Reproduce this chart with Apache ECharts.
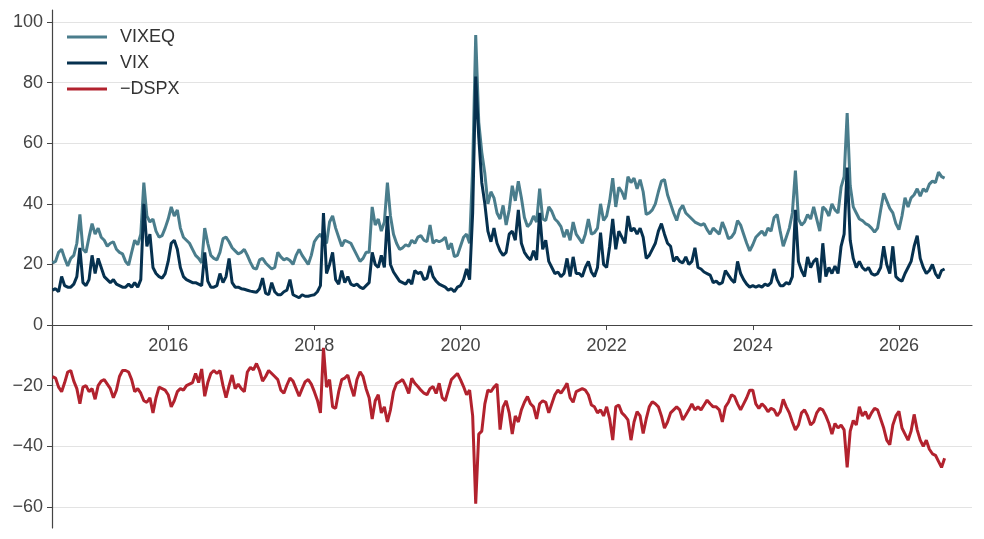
<!DOCTYPE html>
<html>
<head>
<meta charset="utf-8">
<script src="https://cdn.jsdelivr.net/npm/echarts@6/dist/echarts.min.js"></script>
<style>
  html, body { margin: 0; padding: 0; background: #fff; }
  #main { width: 984px; height: 539px; }
</style>
</head>
<body>
<div id="main"></div>
<script>
// half-monthly readings, first point = June 2014
var startYear = 2014 + 5 / 12;
var step = 1 / 24;

var vixeq = [
    20.5, 21, 24, 25, 22, 19.5, 22, 23, 27, 36.5, 25, 24, 29, 33.5, 30, 32, 29, 28, 26, 27, 27.5, 25, 24, 23.5,
    21, 19.8, 24, 28, 26.5, 30, 47, 36, 34, 35, 31, 29, 29.5, 32, 35, 39, 36, 38, 32, 29, 28, 27, 25, 23,
    22, 20.5, 32, 27, 23, 22, 21.5, 24, 28.5, 29, 27.5, 25.5, 24.5, 23.5, 24, 25, 23, 20.7, 18.8, 18.5, 21.5, 22, 20.5, 19.5,
    18.5, 19, 24, 22.5, 21.5, 22, 21.3, 20, 23, 25, 23, 21.5, 20, 23, 27.5, 29, 30, 28, 27, 34, 36, 32, 29, 26,
    28, 27.5, 27, 25, 23, 21, 22, 24, 24, 39, 33, 35, 31, 34, 47, 36, 30, 27, 25, 25.5, 26.5, 26, 28, 27,
    29, 29.5, 28, 27.5, 33, 27, 28, 27.5, 28, 29, 25, 27, 22.6, 23, 26, 29, 30, 27, 52, 95.7, 67, 57, 50, 40,
    44, 42, 37, 35, 39.5, 33, 38, 46, 41, 47.5, 42, 35.5, 32.5, 33.5, 36, 34, 45, 35, 34.5, 39, 37.5, 35, 34, 32.5,
    29, 31.5, 28, 34, 30, 28.5, 27, 30, 35, 30, 30.5, 32, 40, 34.5, 36, 41, 48.5, 39, 45.5, 44, 41.5, 49, 47, 48.5,
    45, 48, 44, 36.5, 37, 38, 40, 44, 47.5, 48, 43, 40, 37, 34.5, 38, 39.5, 37, 36, 35, 34, 33.5, 33, 33.5, 31.5,
    30, 32, 31, 30, 34, 31.5, 28.5, 29, 30.5, 34.5, 33, 30, 27, 24.5, 26.5, 29, 30, 31, 29.5, 32, 31, 35.5, 36.5, 31,
    26, 29, 32, 37, 51, 35, 33, 34, 36.5, 35, 39, 35, 31, 39, 38, 36, 40, 38, 37, 45.5, 49, 70, 46, 39,
    37, 35, 34.5, 33.5, 33, 32, 30.7, 32, 38, 43.5, 41, 38.5, 37, 33.5, 31.5, 36, 42, 39, 42, 43, 45, 42.5, 45, 44,
    46.5, 47.5, 47, 50.5, 49, 48.5
];

var vix = [
    11.5, 12, 11, 16, 13, 12.5, 12.5, 13.5, 16, 25.5, 14, 13, 15, 23, 17, 22, 19, 16, 15, 14, 15, 13.5, 13, 12.5,
    12.5, 13.5, 12.5, 14, 12.5, 15, 40, 26, 30, 19, 17, 16, 15.5, 17, 21, 27, 28, 25, 19, 16, 15, 14.5, 14, 14,
    13.5, 13, 24, 14.5, 12.5, 12.5, 13, 17, 14, 16, 22, 14, 12.5, 12.5, 12, 11.8, 11.5, 11.2, 11, 10.8, 12, 15.5, 10.5, 10,
    14, 11, 10, 10, 11, 11.5, 15, 10, 9.5, 9, 10, 9.5, 9.5, 9.8, 10, 11, 13, 37, 17, 20, 24, 15, 13.5, 18,
    14, 16, 13.5, 13, 13.5, 12.5, 12, 13, 14, 24, 20, 19, 23, 19, 36, 20, 17.5, 16, 14.5, 14, 13.5, 15, 13.5, 18,
    17, 17.5, 15, 15.5, 19.5, 16, 14.5, 13.5, 13, 12.5, 11.5, 12, 11, 12.5, 13, 15, 18.5, 15, 37, 82, 62, 47, 40, 31,
    27.5, 32, 27, 24.5, 23, 24, 30, 31, 28, 38, 27, 24, 22.5, 21.5, 24.5, 21.5, 37, 25, 28, 21, 19, 17, 17.5, 16,
    17, 22, 16, 22.5, 17, 17, 16, 19, 21, 17.5, 16, 19, 30.5, 20, 19, 26, 35, 25, 31, 29, 27, 36, 31, 32,
    30, 32, 29, 22, 23, 25, 27, 31, 33.5, 30, 27, 26, 21, 22.5, 21, 20.5, 22.5, 20, 21, 25.5, 19, 18.5, 17.5, 17,
    16.5, 14, 14.5, 13.5, 14, 18, 16.5, 15, 14, 21, 17, 15, 13.5, 12.5, 13, 12.5, 13, 12.5, 13.5, 13, 14, 18.5, 15, 13,
    13, 14, 13.5, 16, 38, 21, 18, 16, 22.5, 19, 21, 22, 14, 27, 16, 19, 17, 19.5, 17, 26, 30, 52, 28, 22,
    19, 21, 19, 18, 19, 17, 16.5, 17, 19, 26, 20, 17, 26, 16, 15, 14.5, 17, 19, 21, 26, 29.5, 22, 19, 17,
    18, 20, 17, 15.5, 18, 18.5
];

var negDspx = [
    -17, -17.5, -20.5, -22, -19, -15.5, -15, -18.5, -21, -26, -20.5, -20, -22, -21, -24.5, -20, -18.5, -18, -19.5, -21, -24, -21.5, -17, -15,
    -15, -15.5, -18, -22, -21, -22.5, -25, -25.5, -24, -29, -24, -20.5, -21, -21.5, -23, -27, -25, -22, -21, -21.5, -20, -19.5, -19, -16,
    -19, -14.5, -23.5, -19, -16, -15, -16, -15, -20, -24, -20, -16.5, -21, -19.5, -21, -22, -15.5, -14, -14.8, -12.7, -15, -18.5, -17, -15,
    -16, -17, -18, -21.5, -22.5, -19.8, -17.5, -18.5, -21, -23.5, -21, -18.7, -18, -19.5, -22, -24.8, -29, -7.5, -20.5, -18, -27, -27.5, -22, -18,
    -17.5, -16.5, -20.3, -23.5, -18, -15.4, -17, -21, -24, -31, -25, -23, -29, -27, -32, -28, -22, -19.3, -18.7, -18, -20, -22.6, -17.6, -19.2,
    -20.3, -21.5, -22.5, -23, -21, -20.3, -22.6, -19.2, -24, -25, -21.5, -18, -17, -16, -18, -20.3, -23, -21.5, -30, -59, -36, -35, -26, -21.5,
    -22, -20.5, -19.5, -34.5, -27, -25, -29, -36, -30, -32, -28, -25.5, -23.6, -26, -27, -31, -26, -25, -25.5, -29, -26, -23, -21.5, -22.5,
    -21, -19.2, -24, -25.5, -22, -21.5, -21, -21.5, -23, -26.4, -27, -29, -28, -30, -27, -31, -38, -27, -26.4, -29, -30, -31.3, -38, -32,
    -28.6, -30, -35.8, -31, -27, -25.3, -26, -27, -30, -34, -32, -29, -28, -27, -28, -31.3, -29.7, -28, -26, -28, -27, -28, -26.4, -24.8,
    -26, -27, -27, -28, -32, -27, -25.5, -23, -23.6, -26, -28, -26, -24, -21.5, -21.5, -26, -27.5, -26, -27, -28.6, -27.5, -28, -30, -28.6,
    -24.5, -27, -29, -32, -34.6, -33, -29, -28, -30, -33, -32, -29, -27.5, -28, -30, -32.5, -36, -32.5, -34, -33, -34.6, -47, -35, -31.5,
    -33, -27, -30, -28.6, -31, -29, -27.5, -28, -31, -34, -38, -39.5, -33, -30, -28.5, -34, -36, -38, -35, -29.5, -34.6, -38, -40, -38,
    -41, -42.5, -43, -45, -47, -44
];

var seriesNames = ['VIXEQ', 'VIX', '\u2212DSPX'];
var seriesColors = ['#4a7d8c', '#06314f', '#b2222e'];
var yearTicks = [2016, 2018, 2020, 2022, 2024, 2026];
var valueTicks = [-60, -40, -20, 0, 20, 40, 60, 80, 100];
var yMin = -67, yMax = 104;

function toPairs(arr) {
    return arr.map(function (v, i) { return [startYear + i * step, v]; });
}

var W = 984, H = 539;
var gridTop = 10, gridBottom = 11;
// move the year axis up to the zero line (labels follow it)
var plotH = H - gridTop - gridBottom;
var zeroY = gridTop + (yMax / (yMax - yMin)) * plotH;
var xOffset = -((H - gridBottom) - zeroY);

var myChart = echarts.init(document.getElementById('main'));
var font = 'Liberation Sans, Arial, sans-serif';

var option = {
    animation: false,
    backgroundColor: '#fff',
    textStyle: { fontFamily: font },
    grid: { left: 52, right: 12, top: gridTop, bottom: gridBottom, containLabel: false, outerBoundsMode: 'none' },
    legend: {
        orient: 'vertical',
        left: 67,
        top: 28,
        padding: 0,
        itemWidth: 40,
        itemHeight: 3,
        itemGap: 8,
        icon: 'rect',
        data: seriesNames,
        textStyle: { fontSize: 18, color: '#333', fontFamily: font, padding: [0, 0, 0, 8] }
    },
    xAxis: {
        type: 'value',
        min: 2014.41,
        max: 2027.0,
        offset: xOffset,
        axisLine: { onZero: false, lineStyle: { color: '#444', width: 1.2 } },
        axisTick: { customValues: yearTicks, length: 5, lineStyle: { color: '#444' } },
        axisLabel: {
            customValues: yearTicks,
            margin: 12,
            fontSize: 18,
            color: '#444',
            fontFamily: font,
            formatter: function (v) { return String(Math.round(v)); }
        },
        splitLine: { show: false }
    },
    yAxis: {
        type: 'value',
        min: yMin,
        max: yMax,
        axisLine: { show: true, lineStyle: { color: '#444', width: 1.2 } },
        axisTick: { show: true, customValues: valueTicks, length: 5, lineStyle: { color: '#444' } },
        axisLabel: {
            customValues: valueTicks,
            margin: 9,
            fontSize: 18,
            color: '#444',
            fontFamily: font,
            formatter: function (v) { return v < 0 ? '\u2212' + Math.abs(v) : String(v); }
        },
        splitLine: { show: true, lineStyle: { color: '#e3e3e3', width: 1 } }
    },
    series: [vixeq, vix, negDspx].map(function (arr, k) {
        return {
            name: seriesNames[k],
            type: 'line',
            data: toPairs(arr),
            showSymbol: false,
            symbol: 'none',
            color: seriesColors[k],
            lineStyle: { width: 3, color: seriesColors[k] },
            itemStyle: { color: seriesColors[k] }
        };
    })
};
myChart.setOption(option);
</script>
</body>
</html>
